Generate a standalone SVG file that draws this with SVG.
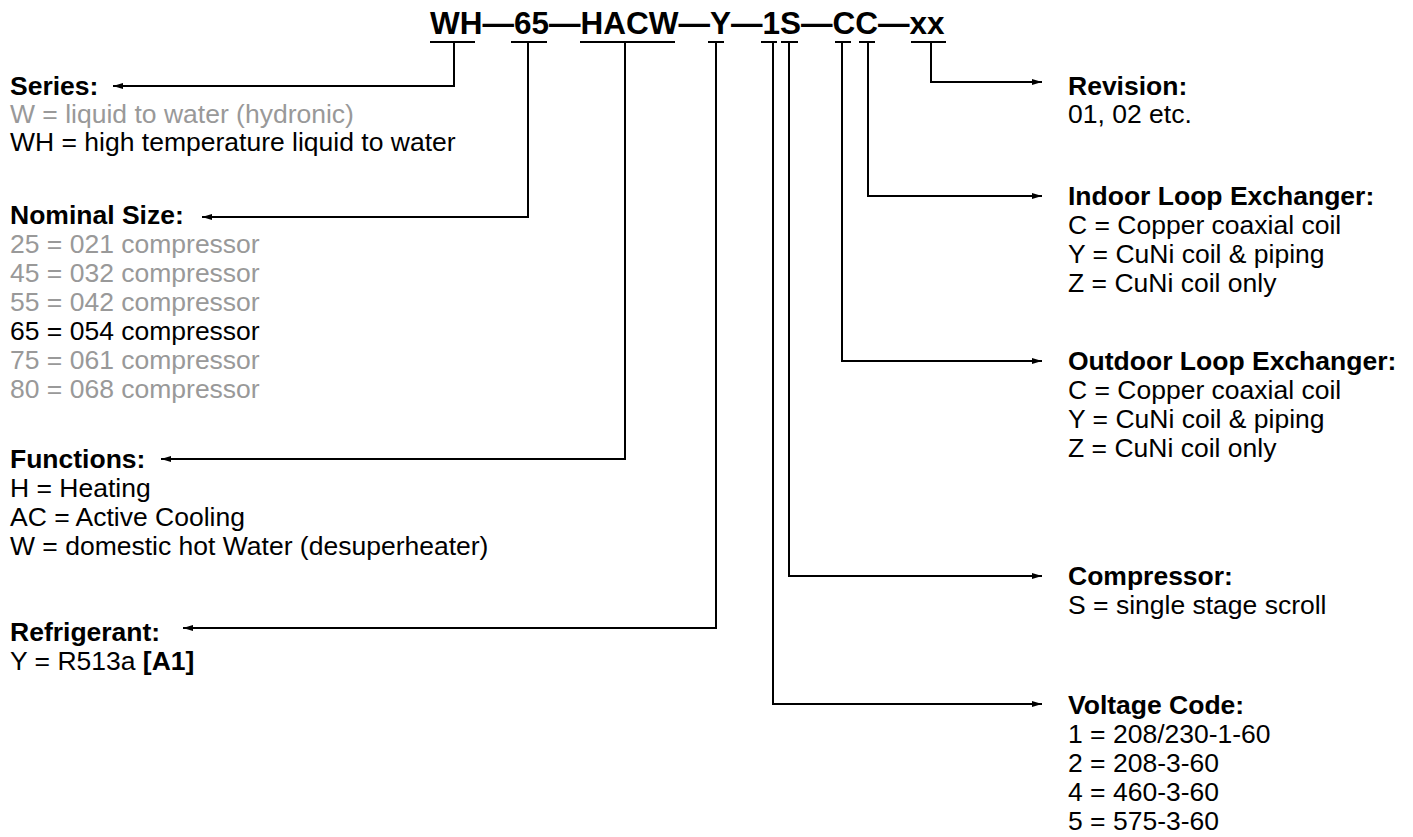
<svg xmlns="http://www.w3.org/2000/svg" width="1413" height="837" viewBox="0 0 1413 837">
<defs>
<style>
text{font-family:"Liberation Sans",Arial,sans-serif;font-size:26.5px;fill:#000}
.h{font-weight:bold}
.g{fill:#999}
.t{font-size:31.5px;font-weight:bold}
.c{fill:none;stroke:#000;stroke-width:2}
.u{stroke:#000;stroke-width:2}
</style>
<marker id="a" viewBox="0 0 10 6" refX="10" refY="3" markerWidth="10" markerHeight="6" orient="auto" markerUnits="userSpaceOnUse"><path d="M0,0 L10,3 L0,6 z" fill="#000"/></marker>
</defs>
<rect width="1413" height="837" fill="#fff"/>
<g id="code">
<text class="t" x="430" y="34">WH—65—HACW—Y—1S—CC—xx</text>
<g class="u">
<line x1="430" y1="42" x2="475" y2="42"/>
<line x1="511" y1="42" x2="547" y2="42"/>
<line x1="580" y1="42" x2="675" y2="42"/>
<line x1="708" y1="42" x2="724" y2="42"/>
<line x1="761" y1="42" x2="777" y2="42"/>
<line x1="781" y1="42" x2="798" y2="42"/>
<line x1="835" y1="42" x2="851" y2="42"/>
<line x1="859" y1="42" x2="875" y2="42"/>
<line x1="911" y1="42" x2="946" y2="42"/>
</g>
</g>
<g id="connectors">
<polyline class="c" points="454,42 454,86 113,86" marker-end="url(#a)"/>
<polyline class="c" points="528,42 528,217 202,217" marker-end="url(#a)"/>
<polyline class="c" points="625,42 625,459 161,459" marker-end="url(#a)"/>
<polyline class="c" points="716,42 716,628 183,628" marker-end="url(#a)"/>
<polyline class="c" points="773,42 773,704 1042,704" marker-end="url(#a)"/>
<polyline class="c" points="789,42 789,576 1042,576" marker-end="url(#a)"/>
<polyline class="c" points="842,42 842,361 1042,361" marker-end="url(#a)"/>
<polyline class="c" points="868,42 868,196 1042,196" marker-end="url(#a)"/>
<polyline class="c" points="931,42 931,82 1042,82" marker-end="url(#a)"/>
</g>
<g id="series">
<text class="h" x="10" y="95">Series:</text>
<text class="g" x="10" y="123">W = liquid to water (hydronic)</text>
<text x="10" y="151">WH = high temperature liquid to water</text>
</g>
<g id="size">
<text class="h" x="10" y="224">Nominal Size:</text>
<text class="g" x="10" y="253">25 = 021 compressor</text>
<text class="g" x="10" y="282">45 = 032 compressor</text>
<text class="g" x="10" y="311">55 = 042 compressor</text>
<text x="10" y="340">65 = 054 compressor</text>
<text class="g" x="10" y="369">75 = 061 compressor</text>
<text class="g" x="10" y="398">80 = 068 compressor</text>
</g>
<g id="functions">
<text class="h" x="10" y="468">Functions:</text>
<text x="10" y="497">H = Heating</text>
<text x="10" y="526">AC = Active Cooling</text>
<text x="10" y="555">W = domestic hot Water (desuperheater)</text>
</g>
<g id="refrigerant">
<text class="h" x="10" y="641">Refrigerant:</text>
<text x="10" y="670">Y = R513a <tspan class="h">[A1]</tspan></text>
</g>
<g id="revision">
<text class="h" x="1068" y="95">Revision:</text>
<text x="1068" y="123">01, 02 etc.</text>
</g>
<g id="indoor">
<text class="h" x="1068" y="205">Indoor Loop Exchanger:</text>
<text x="1068" y="234">C = Copper coaxial coil</text>
<text x="1068" y="263">Y = CuNi coil &amp; piping</text>
<text x="1068" y="292">Z = CuNi coil only</text>
</g>
<g id="outdoor">
<text class="h" x="1068" y="370">Outdoor Loop Exchanger:</text>
<text x="1068" y="399">C = Copper coaxial coil</text>
<text x="1068" y="428">Y = CuNi coil &amp; piping</text>
<text x="1068" y="457">Z = CuNi coil only</text>
</g>
<g id="compressor">
<text class="h" x="1068" y="585">Compressor:</text>
<text x="1068" y="614">S = single stage scroll</text>
</g>
<g id="voltage">
<text class="h" x="1068" y="714">Voltage Code:</text>
<text x="1068" y="743">1 = 208/230-1-60</text>
<text x="1068" y="772">2 = 208-3-60</text>
<text x="1068" y="801">4 = 460-3-60</text>
<text x="1068" y="830">5 = 575-3-60</text>
</g>
</svg>
